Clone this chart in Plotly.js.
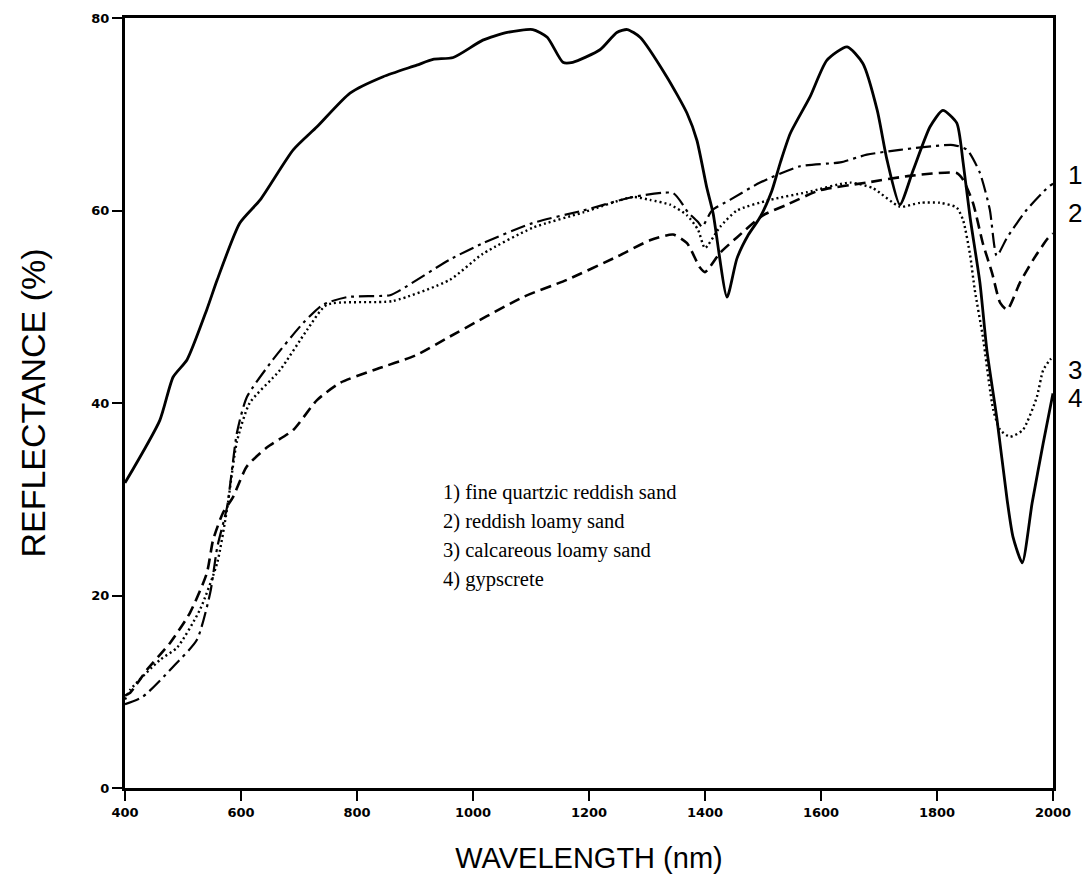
<!DOCTYPE html>
<html>
<head>
<meta charset="utf-8">
<script src="https://cdn.plot.ly/plotly-3.0.1.min.js"></script>
<style>html,body{margin:0;padding:0;background:#fff;}#chart{width:1087px;height:887px;}</style>
</head>
<body>
<div id="chart"></div>
<script>
// Series names
const seriesNames = [
  "1) fine quartzic reddish sand",
  "2) reddish loamy sand",
  "3) calcareous loamy sand",
  "4) gypscrete"
];
const endLabels = ["1", "2", "3", "4"];
const endLabelY = [63.7, 59.7, 43.4, 40.5];

// 1) fine quartzic reddish sand (dash-dot)
const wl1 = [400,431,483,524,547,559,576,593,610,655,707,741,783,857,874,960,1017,1103,1190,1276,1345,1371,1388,1395,1412,1443,1495,1564,1633,1679,1736,1828,1852,1874,1891,1903,1921,1955,1991,2000];
const r1  = [8.7,9.5,12.6,15.4,20.3,25,29.2,36.9,40.6,44.5,48.3,50.2,51,51.2,51.7,54.9,56.6,58.7,60,61.4,61.8,59.8,58.8,58.3,60,61.1,62.9,64.6,65,65.8,66.3,66.8,66.3,63.9,60.1,55.3,57.2,60.1,62.4,62.8];

// 2) reddish loamy sand (dashed)
const wl2 = [400,409,438,478,512,541,552,569,586,610,645,690,731,771,828,903,960,1086,1162,1248,1305,1345,1369,1391,1400,1426,1455,1500,1541,1598,1679,1753,1834,1845,1862,1879,1895,1909,1921,1943,1966,1991,2000];
const r2  = [9.6,9.9,12.3,15.1,18.2,22.3,25.8,28.6,30.2,33.4,35.4,37.2,40.3,42.1,43.4,45,46.9,51,52.8,55.2,56.9,57.5,56.6,54.1,53.6,55.6,57.2,59.5,60.6,62.1,62.9,63.6,63.9,63.2,60.8,56.6,53.5,50.4,49.7,52.5,54.9,57.1,57.6];

// 3) calcareous loamy sand (dotted)
const wl3 = [400,409,460,490,529,559,576,593,615,667,714,748,862,960,1017,1103,1190,1276,1305,1340,1369,1388,1400,1426,1455,1512,1576,1650,1690,1736,1771,1805,1834,1845,1857,1865,1879,1897,1909,1926,1948,1972,1983,1995,2000];
const r3  = [9.2,10.2,13.3,14.6,18.5,23.4,29,36,40,43.4,47.6,50.2,50.6,52.8,55.5,58.2,59.8,61.4,61.1,60.6,59.5,58,56.1,58.3,60,61.1,61.9,62.9,62.3,60.4,60.8,60.8,60.3,59,55.4,51.8,46.9,39.3,37.2,36.5,37.2,40.6,43.4,44.5,44.8];

// 4) gypscrete (solid)
const wl4 = [400,460,483,507,541,559,598,633,690,731,788,845,903,931,966,1017,1059,1103,1128,1155,1172,1219,1248,1266,1288,1334,1369,1386,1403,1414,1438,1455,1475,1495,1515,1530,1547,1581,1610,1645,1672,1697,1714,1736,1759,1788,1810,1834,1845,1857,1874,1886,1903,1921,1931,1947,1964,1983,2000];
const r4  = [31.7,38.2,42.7,44.5,49.7,52.8,58.7,61.1,66.3,68.7,72.2,73.9,75.1,75.7,75.9,77.7,78.5,78.8,78,75.4,75.4,76.7,78.5,78.8,78,73.9,70.1,67.3,62.4,59.7,51,55,57.5,59.3,62,65,68,71.8,75.6,77,75.3,70.4,65.2,60.6,64.2,68.7,70.4,69.1,65,59.3,52.5,45.5,38.5,29.9,26.1,23.4,29.6,35.8,41];

const xTicks = [400,600,800,1000,1200,1400,1600,1800,2000];
const yTicks = [0,20,40,60,80];

const traces = [
  {x: wl1, y: r1, name: seriesNames[0], line: {color: '#000', width: 2.2, dash: '15px,5px,3px,5px'}},
  {x: wl2, y: r2, name: seriesNames[1], line: {color: '#000', width: 2.6, dash: '11px,6px'}},
  {x: wl3, y: r3, name: seriesNames[2], line: {color: '#000', width: 2.4, dash: '2px,3px'}},
  {x: wl4, y: r4, name: seriesNames[3], line: {color: '#000', width: 2.8}}
].map(t => Object.assign({type: 'scatter', mode: 'lines', hoverinfo: 'x+y'}, t));

traces.forEach(t => { t.line.shape = 'spline'; t.line.smoothing = 0.6; });

const legendAnn = seriesNames.map((s, i) => ({
  text: s, xref: 'paper', yref: 'paper', x: 0.341, y: (788 - (492 + i * 29)) / 770,
  xanchor: 'left', yanchor: 'middle', showarrow: false,
  font: {family: 'Liberation Serif, Times New Roman, serif', size: 20.5, color: '#000'}
}));
const endAnn = endLabels.map((s, i) => ({
  text: s, xref: 'paper', yref: 'y', x: 1.014, y: endLabelY[i],
  xanchor: 'left', yanchor: 'middle', showarrow: false,
  font: {family: 'Liberation Sans, Arial, sans-serif', size: 26, color: '#000'}
}));

const layout = {
  width: 1087, height: 887,
  margin: {l: 125, r: 34, t: 18, b: 99},
  paper_bgcolor: '#fff', plot_bgcolor: '#fff',
  showlegend: false,
  xaxis: {
    range: [400, 2000], tickvals: xTicks, ticktext: xTicks.map(String),
    ticks: 'outside', ticklen: 10, tickwidth: 2, tickcolor: '#000',
    showline: true, mirror: true, linecolor: '#000', linewidth: 3,
    showgrid: false, zeroline: false,
    tickfont: {family: 'DejaVu Sans, Arial, sans-serif', size: 13, color: '#000', weight: 'bold'},
    title: {text: 'WAVELENGTH (nm)', standoff: 30,
      font: {family: 'Liberation Sans, Arial, sans-serif', size: 29, color: '#000'}}
  },
  yaxis: {
    range: [0, 80], tickvals: yTicks, ticktext: yTicks.map(String),
    ticks: 'outside', ticklen: 10, tickwidth: 2, tickcolor: '#000',
    showline: true, mirror: true, linecolor: '#000', linewidth: 3,
    showgrid: false, zeroline: false,
    tickfont: {family: 'DejaVu Sans, Arial, sans-serif', size: 13, color: '#000', weight: 'bold'},
    title: {text: 'REFLECTANCE (%)', standoff: 36,
      font: {family: 'Liberation Sans, Arial, sans-serif', size: 34, color: '#000'}}
  },
  annotations: legendAnn.concat(endAnn)
};

Plotly.newPlot('chart', traces, layout, {displayModeBar: false, staticPlot: true});
</script>
</body>
</html>
